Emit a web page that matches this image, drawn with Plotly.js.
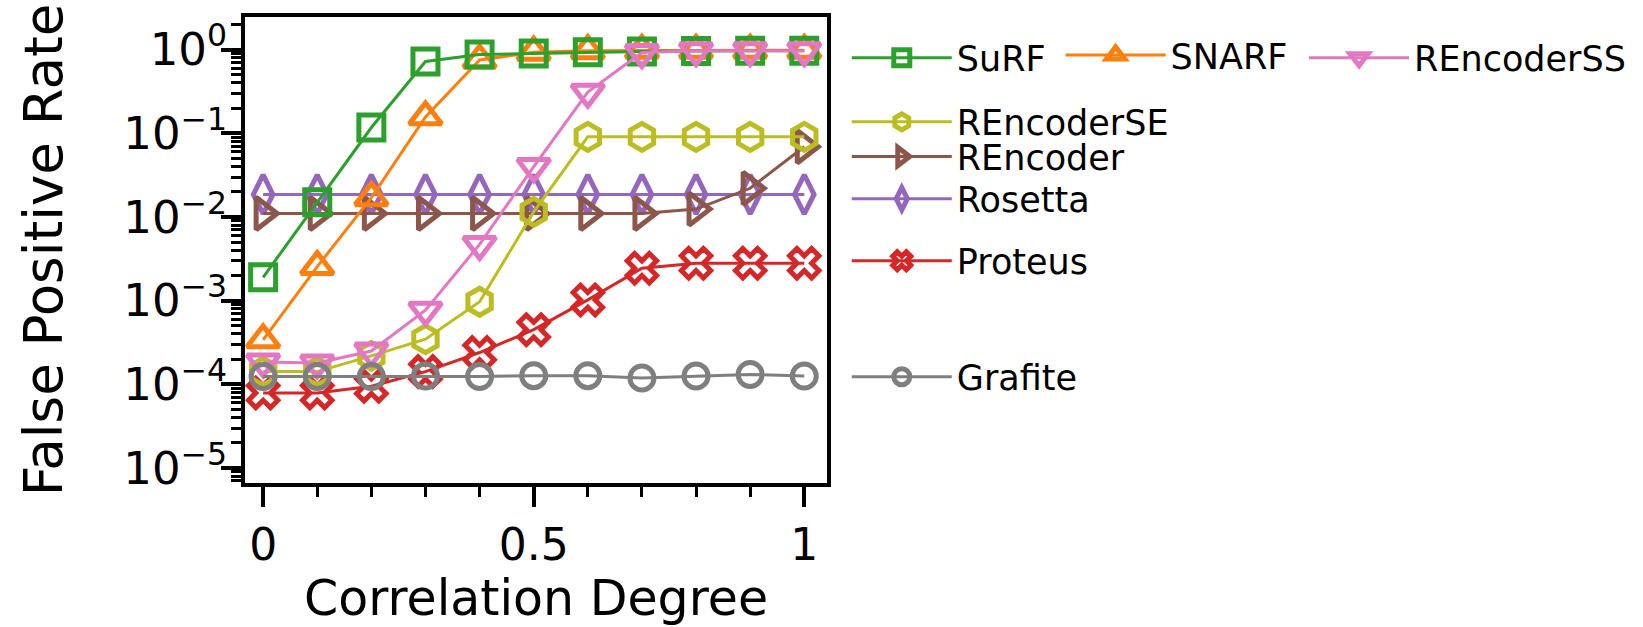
<!DOCTYPE html>
<html>
<head>
<meta charset="utf-8">
<script src="https://cdn.plot.ly/plotly-3.0.1.min.js"></script>
<style>html,body{margin:0;padding:0;background:#fff;}#chart{width:1643px;height:627px;}</style>
</head>
<body>
<div id="chart"></div>
<script>
const correlation = [0, 0.1, 0.2, 0.3, 0.4, 0.5, 0.6, 0.7, 0.8, 0.9, 1.0];

const surf        = [1.9e-3, 1.5e-2, 0.117, 0.72, 0.87, 0.90, 0.93, 0.95, 0.96, 0.97, 0.97];
const snarf       = [3.4e-4, 2.55e-3, 1.7e-2, 0.157, 0.75, 0.93, 0.97, 0.98, 0.98, 0.98, 0.98];
const rencoderSS  = [1.85e-4, 1.8e-4, 2.5e-4, 7.7e-4, 4.7e-3, 0.04, 0.31, 0.92, 0.97, 0.97, 0.97];
const rencoderSE  = [1.42e-4, 1.42e-4, 2.19e-4, 3.46e-4, 9.7e-4, 0.0115, 0.0906, 0.0906, 0.0906, 0.0906, 0.0906];
const rencoder    = [0.011, 0.011, 0.011, 0.011, 0.011, 0.011, 0.011, 0.011, 0.0124, 0.022, 0.069];
const rosetta     = [0.0186, 0.0186, 0.0186, 0.0186, 0.0186, 0.0186, 0.0186, 0.0186, 0.0186, 0.0186, 0.0186];
const proteus     = [7.9e-5, 7.9e-5, 9.5e-5, 1.42e-4, 2.4e-4, 4.5e-4, 1.02e-3, 2.44e-3, 2.8e-3, 2.8e-3, 2.8e-3];
const grafite     = [1.24e-4, 1.24e-4, 1.24e-4, 1.26e-4, 1.24e-4, 1.27e-4, 1.27e-4, 1.19e-4, 1.26e-4, 1.31e-4, 1.26e-4];

const yTickVals = [1e-5, 1e-4, 1e-3, 1e-2, 1e-1, 1];
const yTickText = ['10<sup>\u22125</sup>', '10<sup>\u22124</sup>', '10<sup>\u22123</sup>', '10<sup>\u22122</sup>', '10<sup>\u22121</sup>', '10<sup>0</sup>'];
const xTickVals = [0, 0.5, 1];
const xTickText = ['0', '0.5', '1'];

const FONT = 'DejaVu Sans, Verdana, sans-serif';

function series(name, y, color, symbol, legendId, size) {
  return {
    type: 'scatter', mode: 'lines+markers', name: name, x: correlation, y: y,
    line: {color: color, width: 3},
    marker: {symbol: symbol, size: size || 27, color: color, line: {color: color, width: 5}},
    legend: legendId
  };
}

const traces = [
  series('Rosetta', rosetta, '#9467bd', 'diamond-tall-open', 'legend6', 28),
  series('REncoder', rencoder, '#8c564b', 'triangle-right-open', 'legend5', 28),
  series('Proteus', proteus, '#d62728', 'x-open', 'legend7', 26),
  series('SNARF', snarf, '#ff7f0e', 'triangle-up-open', 'legend2', 28),
  series('SuRF', surf, '#2ca02c', 'square-open', 'legend', 25),
  series('REncoderSE', rencoderSE, '#bcbd22', 'hexagon-open', 'legend4', 27),
  series('REncoderSS', rencoderSS, '#e377c2', 'triangle-down-open', 'legend3', 28),
  series('Grafite', grafite, '#7f7f7f', 'circle-open', 'legend8', 24)
];

const minorY = [];
for (let e = -6; e <= 0; e++) for (let k = 2; k <= 9; k++) minorY.push(k * Math.pow(10, e));

function leg(x, y) {
  return {x: x, y: y, xanchor: 'left', yanchor: 'middle', bgcolor: 'rgba(0,0,0,0)',
          borderwidth: 0, itemwidth: 100, font: {family: FONT, size: 35, color: '#000'}};
}

const layout = {
  width: 1643, height: 627,
  margin: {l: 245, r: 810, t: 17, b: 144, pad: 0},
  paper_bgcolor: '#fff', plot_bgcolor: '#fff',
  font: {family: FONT, color: '#000'},
  xaxis: {
    range: [-0.0335, 1.042], tickmode: 'array', tickvals: xTickVals, ticktext: xTickText,
    ticks: 'outside', ticklen: 20, tickwidth: 4, tickcolor: '#000',
    minor: {tickmode: 'array', tickvals: correlation, ticks: 'outside', ticklen: 10, tickwidth: 3, tickcolor: '#000'},
    showline: true, linewidth: 4, linecolor: '#000', mirror: true,
    showgrid: false, zeroline: false,
    tickfont: {family: FONT, size: 44, color: '#000'},
    title: {text: 'Correlation Degree', font: {family: FONT, size: 49, color: '#000'}, standoff: 32},
    automargin: false
  },
  yaxis: {
    type: 'log', range: [-5.179, 0.389],
    tickmode: 'array', tickvals: yTickVals, ticktext: yTickText,
    ticks: 'outside', ticklen: 20, tickwidth: 4, tickcolor: '#000',
    ticklabelstandoff: -15,
    minor: {tickmode: 'array', tickvals: minorY, ticks: 'outside', ticklen: 10, tickwidth: 3, tickcolor: '#000'},
    showline: true, linewidth: 4, linecolor: '#000', mirror: true,
    showgrid: false, zeroline: false,
    tickfont: {family: FONT, size: 45, color: '#000'},
    title: {text: 'False Positive Rate', font: {family: FONT, size: 53, color: '#000'}, standoff: 45},
    automargin: false
  },
  legend:  leg(1.034, 0.912),
  legend2: leg(1.4014, 0.918),
  legend3: leg(1.8197, 0.912),
  legend4: leg(1.034, 0.7745),
  legend5: leg(1.034, 0.7),
  legend6: leg(1.034, 0.6094),
  legend7: leg(1.034, 0.4764),
  legend8: leg(1.034, 0.2275),
  showlegend: true
};

Plotly.newPlot('chart', traces, layout, {displayModeBar: false, staticPlot: true});
</script>
</body>
</html>
